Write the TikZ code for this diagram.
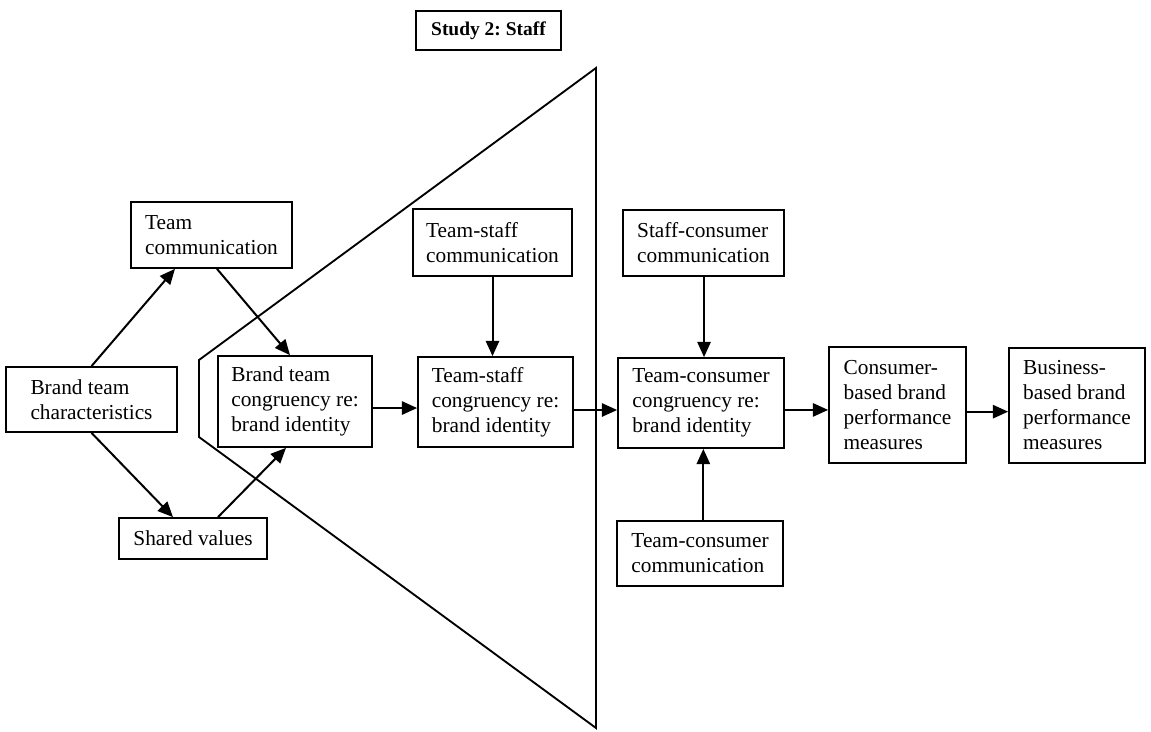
\documentclass[tikz,border=0pt]{standalone}
\usepackage{fontspec}
\setmainfont{Liberation Serif}
\frenchspacing
\usetikzlibrary{arrows.meta}
\begin{document}
\begin{tikzpicture}[x=0.75pt,y=-0.75pt,
  box/.style={draw, line width=1.3pt, align=left, inner sep=0pt,
    font=\fontsize{16}{18.75}\selectfont},
  flow/.style={line width=1.5pt, -{Triangle[length=11.5pt,width=10pt]}},
  wedge/.style={line width=1.4pt, line join=miter}]
\useasboundingbox (0,0) rectangle (1151,731);

% study label
\node[box, minimum width=108.75pt, minimum height=29.25pt,
  font=\fontsize{14.6}{17}\selectfont\bfseries] (study) at (488.5,30.5) {Study 2: Staff};

% staff wedge
\draw[wedge] (596,68) -- (199,360) -- (199,437) -- (596,728) -- cycle;

% boxes
\node[box, minimum width=120.75pt, minimum height=49.5pt] (tcomm) at (211.5,235) {Team\\communication};
\node[box, minimum width=128.25pt, minimum height=48.75pt] (brand) at (91.5,399.5) {Brand team\\characteristics};
\node[box, minimum width=111pt, minimum height=30.75pt] (shared) at (193,538.5) {Shared values};
\node[box, minimum width=115.5pt, minimum height=68.25pt] (btc) at (295,401.5) {Brand team\\congruency re:\\brand identity};
\node[box, minimum width=119.25pt, minimum height=50.25pt] (tsc) at (492.5,242.5) {Team-staff\\communication};
\node[box, minimum width=116.25pt, minimum height=67.5pt] (tsg) at (495.5,402) {Team-staff\\congruency re:\\brand identity};
\node[box, minimum width=120.75pt, minimum height=49.5pt] (scc) at (703.5,243) {Staff-consumer\\communication};
\node[box, minimum width=124.5pt, minimum height=67.5pt] (tcg) at (701,403) {Team-consumer\\congruency re:\\brand identity};
\node[box, minimum width=124.5pt, minimum height=48.75pt] (tcc) at (700,553.5) {Team-consumer\\communication};
\node[box, minimum width=102.75pt, minimum height=87pt] (cbm) at (897.5,405) {Consumer-\\based brand\\performance\\measures};
\node[box, minimum width=102pt, minimum height=86.25pt] (bbm) at (1077,405.5) {Business-\\based brand\\performance\\measures};

% connectors
\draw[flow] (brand.north) -- ([xshift=-27.4pt]tcomm.south);
\draw[flow] (brand.south) -- ([xshift=-15pt]shared.north);
\draw[flow] ([xshift=4.1pt]tcomm.south) -- ([xshift=-3.75pt]btc.north);
\draw[flow] ([xshift=18.75pt]shared.north) -- ([xshift=-6.75pt]btc.south);
\draw[flow] ([yshift=-4.9pt]btc.east) -- ([yshift=-4.9pt]btc.east -| tsg.west);
\draw[flow] (tsc.south) -- (tsc.south |- tsg.north);
\draw[flow] ([yshift=-6pt]tsg.east) -- ([yshift=-6pt]tsg.east -| tcg.west);
\draw[flow] ([xshift=0.4pt]scc.south) -- ([xshift=0.4pt]scc.south |- tcg.north);
\draw[flow] ([xshift=2.5pt]tcc.north) -- ([xshift=2.5pt]tcc.north |- tcg.south);
\draw[flow] ([yshift=-5.2pt]tcg.east) -- ([yshift=-5.2pt]tcg.east -| cbm.west);
\draw[flow] ([yshift=-5pt]cbm.east) -- ([yshift=-5pt]cbm.east -| bbm.west);
\end{tikzpicture}
\end{document}
